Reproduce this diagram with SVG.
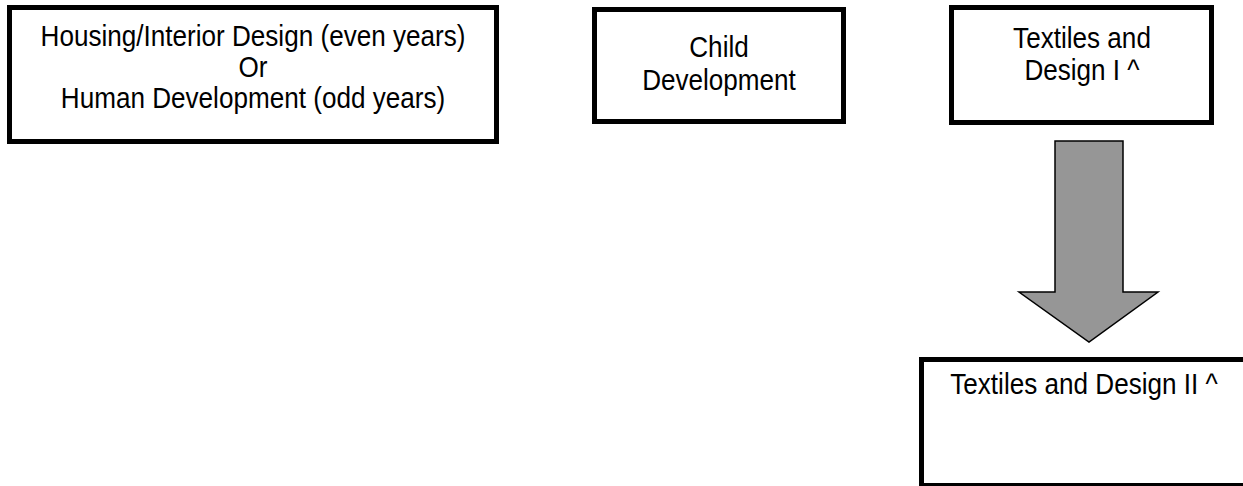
<svg xmlns="http://www.w3.org/2000/svg" width="1243" height="486" viewBox="0 0 1243 486">
<style>
.box{fill:#fff;stroke:#000;stroke-width:5}
.t{font-family:"Liberation Sans",Arial,sans-serif;font-size:29px;fill:#000;text-anchor:middle}
.arrow{fill:#969696;stroke:#000;stroke-width:1.5;stroke-linejoin:miter}
</style>
<rect width="1243" height="486" fill="#fff"/>
<g id="connectors">
<path class="arrow" d="M1055,141 H1123 V292 H1158 L1089,342 L1019,292 H1055 Z"/>
</g>
<g id="node-housing">
<rect class="box" x="9.5" y="7.5" width="487" height="134"/>
<g transform="translate(253,0) scale(0.9,1)">
<text class="t" x="0" y="46">Housing/Interior Design (even years)</text>
<text class="t" x="0" y="77">Or</text>
<text class="t" x="0" y="108">Human Development (odd years)</text>
</g>
</g>
<g id="node-child">
<rect class="box" x="594.5" y="9.5" width="249" height="112"/>
<g transform="translate(719,0) scale(0.9,1)">
<text class="t" x="0" y="57">Child</text>
<text class="t" x="0" y="90">Development</text>
</g>
</g>
<g id="node-textiles1">
<rect class="box" x="951.5" y="7.5" width="260" height="115"/>
<g transform="translate(1082,0) scale(0.9,1)">
<text class="t" x="0" y="48">Textiles and</text>
<text class="t" x="0" y="80">Design I ^</text>
</g>
</g>
<g id="node-textiles2">
<rect class="box" x="921.5" y="359.5" width="340" height="126"/>
<g transform="translate(1084,0) scale(0.9,1)">
<text class="t" x="0" y="394">Textiles and Design II ^</text>
</g>
</g>
</svg>
